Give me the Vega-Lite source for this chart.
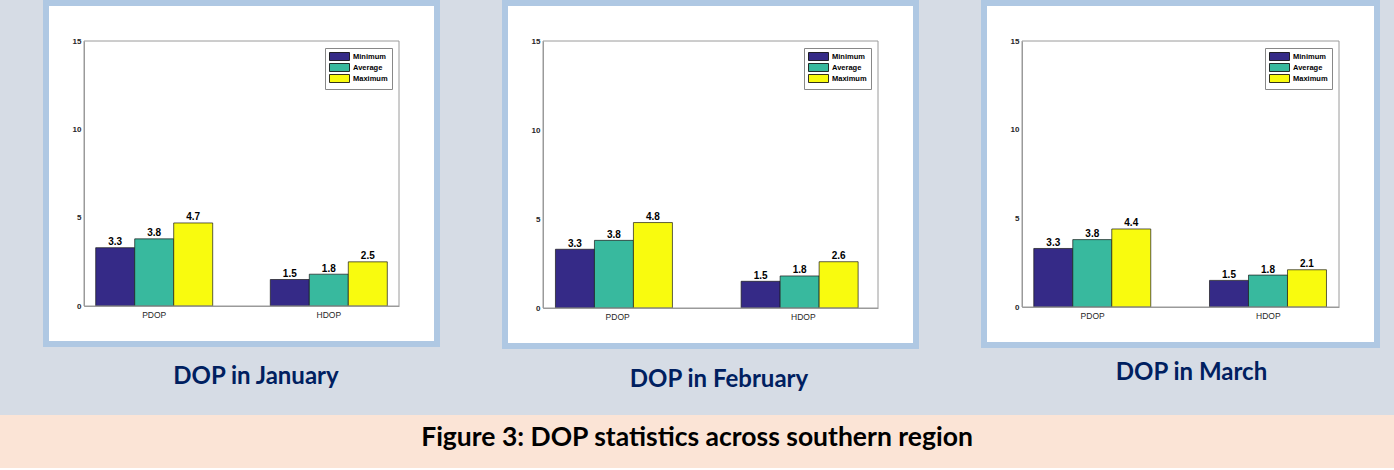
{
  "$schema": "https://vega.github.io/schema/vega-lite/v6.json",
  "background": "#d6dce5",
  "padding": 0,
  "datasets": {
    "dop": [
      {"month": "January", "dop": "PDOP", "stat": "Minimum", "value": 3.3},
      {"month": "January", "dop": "PDOP", "stat": "Average", "value": 3.8},
      {"month": "January", "dop": "PDOP", "stat": "Maximum", "value": 4.7},
      {"month": "January", "dop": "HDOP", "stat": "Minimum", "value": 1.5},
      {"month": "January", "dop": "HDOP", "stat": "Average", "value": 1.8},
      {"month": "January", "dop": "HDOP", "stat": "Maximum", "value": 2.5},
      {"month": "February", "dop": "PDOP", "stat": "Minimum", "value": 3.3},
      {"month": "February", "dop": "PDOP", "stat": "Average", "value": 3.8},
      {"month": "February", "dop": "PDOP", "stat": "Maximum", "value": 4.8},
      {"month": "February", "dop": "HDOP", "stat": "Minimum", "value": 1.5},
      {"month": "February", "dop": "HDOP", "stat": "Average", "value": 1.8},
      {"month": "February", "dop": "HDOP", "stat": "Maximum", "value": 2.6},
      {"month": "March", "dop": "PDOP", "stat": "Minimum", "value": 3.3},
      {"month": "March", "dop": "PDOP", "stat": "Average", "value": 3.8},
      {"month": "March", "dop": "PDOP", "stat": "Maximum", "value": 4.4},
      {"month": "March", "dop": "HDOP", "stat": "Minimum", "value": 1.5},
      {"month": "March", "dop": "HDOP", "stat": "Average", "value": 1.8},
      {"month": "March", "dop": "HDOP", "stat": "Maximum", "value": 2.1}
    ],
    "caption": [{"text": "Figure 3: DOP statistics across southern region"}]
  },
  "vconcat": [
    {
      "hconcat": [
        {
          "width": 43, "height": 10,
          "data": {"name": "caption"},
          "transform": [{"filter": "false"}],
          "view": {"fill": "#d6dce5", "stroke": null},
          "mark": "text",
          "encoding": {"text": {"field": "text", "type": "nominal"}}
        },
        {
          "hconcat": [
            {
              "width": 315, "height": 265,
              "data": {"name": "dop"},
              "title": {"text": "DOP in January", "orient": "bottom", "offset": 37, "dx": 14.5, "baseline": "alphabetic"},
              "transform": [{"filter": {"field": "month", "equal": "January"}}],
              "layer": [
                {"transform": [{"filter": "datum.dop === 'PDOP' && datum.stat === 'Minimum'"}], "mark": {"type": "rect", "fill": "white", "stroke": "#afc8e3", "strokeWidth": 82}, "encoding": {}},
                {"transform": [{"filter": "datum.dop === 'PDOP' && datum.stat === 'Minimum'"}], "mark": {"type": "rect", "fill": "white", "stroke": "white", "strokeWidth": 70}, "encoding": {}},
                {
                  "mark": {"type": "bar", "stroke": "#1a1a1a", "strokeWidth": 0.7},
                  "encoding": {
                    "x": {"field": "dop", "type": "nominal", "sort": ["PDOP", "HDOP"], "scale": {"paddingInner": 0.33, "paddingOuter": 0.067}, "axis": {"title": null, "labelAngle": 0, "zindex": 1}},
                    "xOffset": {"field": "stat", "type": "nominal", "sort": ["Minimum", "Average", "Maximum"], "scale": {"paddingInner": 0, "paddingOuter": 0}},
                    "y": {"field": "value", "type": "quantitative", "scale": {"domain": [0, 15], "nice": false}, "axis": {"values": [0, 5, 10, 15], "title": null, "zindex": 1}},
                    "color": {"field": "stat", "type": "nominal", "sort": ["Minimum", "Average", "Maximum"], "scale": {"domain": ["Minimum", "Average", "Maximum"], "range": ["#352a87", "#38b99e", "#f9fb0e"]}, "legend": {"title": null, "orient": "top-right", "offset": 7, "padding": 4, "fillColor": "white", "strokeColor": "#888888", "symbolType": "M-2.5,-1H2.5V1H-2.5Z", "symbolSize": 64, "symbolOffset": 6, "symbolStrokeColor": "black", "symbolStrokeWidth": 0.8, "symbolOpacity": 1, "labelFont": "Liberation Sans", "labelFontSize": 7.5, "labelFontWeight": "bold", "labelColor": "black", "labelOffset": 9, "rowPadding": -2}}
                  }
                },
                {
                  "mark": {"type": "text", "baseline": "alphabetic", "dy": -2.5, "font": "Liberation Sans", "fontWeight": "bold", "fontSize": 10, "color": "black"},
                  "encoding": {
                    "x": {"field": "dop", "type": "nominal", "sort": ["PDOP", "HDOP"], "scale": {"paddingInner": 0.33, "paddingOuter": 0.067}, "axis": {"title": null, "labelAngle": 0, "zindex": 1}},
                    "xOffset": {"field": "stat", "type": "nominal", "sort": ["Minimum", "Average", "Maximum"], "scale": {"paddingInner": 0, "paddingOuter": 0}},
                    "y": {"field": "value", "type": "quantitative", "scale": {"domain": [0, 15], "nice": false}, "axis": {"values": [0, 5, 10, 15], "title": null, "zindex": 1}},
                    "text": {"field": "value", "type": "quantitative", "format": ".1f"}
                  }
                },
                {"transform": [{"filter": "datum.dop === 'PDOP' && datum.stat === 'Minimum'"}], "mark": {"type": "rect", "fill": "transparent", "stroke": "#9a9a9a", "strokeWidth": 1}, "encoding": {}}
              ]
            },
            {
              "width": 335, "height": 267,
              "data": {"name": "dop"},
              "title": {"text": "DOP in February", "orient": "bottom", "offset": 38, "dx": 8.5, "baseline": "alphabetic"},
              "transform": [{"filter": {"field": "month", "equal": "February"}}],
              "layer": [
                {"transform": [{"filter": "datum.dop === 'PDOP' && datum.stat === 'Minimum'"}], "mark": {"type": "rect", "fill": "white", "stroke": "#afc8e3", "strokeWidth": 82}, "encoding": {}},
                {"transform": [{"filter": "datum.dop === 'PDOP' && datum.stat === 'Minimum'"}], "mark": {"type": "rect", "fill": "white", "stroke": "white", "strokeWidth": 70}, "encoding": {}},
                {
                  "mark": {"type": "bar", "stroke": "#1a1a1a", "strokeWidth": 0.7},
                  "encoding": {
                    "x": {"field": "dop", "type": "nominal", "sort": ["PDOP", "HDOP"], "scale": {"paddingInner": 0.33, "paddingOuter": 0.067}, "axis": {"title": null, "labelAngle": 0, "zindex": 1}},
                    "xOffset": {"field": "stat", "type": "nominal", "sort": ["Minimum", "Average", "Maximum"], "scale": {"paddingInner": 0, "paddingOuter": 0}},
                    "y": {"field": "value", "type": "quantitative", "scale": {"domain": [0, 15], "nice": false}, "axis": {"values": [0, 5, 10, 15], "title": null, "zindex": 1}},
                    "color": {"field": "stat", "type": "nominal", "sort": ["Minimum", "Average", "Maximum"], "scale": {"domain": ["Minimum", "Average", "Maximum"], "range": ["#352a87", "#38b99e", "#f9fb0e"]}, "legend": {"title": null, "orient": "top-right", "offset": 7, "padding": 4, "fillColor": "white", "strokeColor": "#888888", "symbolType": "M-2.5,-1H2.5V1H-2.5Z", "symbolSize": 64, "symbolOffset": 6, "symbolStrokeColor": "black", "symbolStrokeWidth": 0.8, "symbolOpacity": 1, "labelFont": "Liberation Sans", "labelFontSize": 7.5, "labelFontWeight": "bold", "labelColor": "black", "labelOffset": 9, "rowPadding": -2}}
                  }
                },
                {
                  "mark": {"type": "text", "baseline": "alphabetic", "dy": -2.5, "font": "Liberation Sans", "fontWeight": "bold", "fontSize": 10, "color": "black"},
                  "encoding": {
                    "x": {"field": "dop", "type": "nominal", "sort": ["PDOP", "HDOP"], "scale": {"paddingInner": 0.33, "paddingOuter": 0.067}, "axis": {"title": null, "labelAngle": 0, "zindex": 1}},
                    "xOffset": {"field": "stat", "type": "nominal", "sort": ["Minimum", "Average", "Maximum"], "scale": {"paddingInner": 0, "paddingOuter": 0}},
                    "y": {"field": "value", "type": "quantitative", "scale": {"domain": [0, 15], "nice": false}, "axis": {"values": [0, 5, 10, 15], "title": null, "zindex": 1}},
                    "text": {"field": "value", "type": "quantitative", "format": ".1f"}
                  }
                },
                {"transform": [{"filter": "datum.dop === 'PDOP' && datum.stat === 'Minimum'"}], "mark": {"type": "rect", "fill": "transparent", "stroke": "#9a9a9a", "strokeWidth": 1}, "encoding": {}}
              ]
            },
            {
              "width": 317, "height": 266,
              "data": {"name": "dop"},
              "title": {"text": "DOP in March", "orient": "bottom", "offset": 32, "dx": 11, "baseline": "alphabetic"},
              "transform": [{"filter": {"field": "month", "equal": "March"}}],
              "layer": [
                {"transform": [{"filter": "datum.dop === 'PDOP' && datum.stat === 'Minimum'"}], "mark": {"type": "rect", "fill": "white", "stroke": "#afc8e3", "strokeWidth": 82}, "encoding": {}},
                {"transform": [{"filter": "datum.dop === 'PDOP' && datum.stat === 'Minimum'"}], "mark": {"type": "rect", "fill": "white", "stroke": "white", "strokeWidth": 70}, "encoding": {}},
                {
                  "mark": {"type": "bar", "stroke": "#1a1a1a", "strokeWidth": 0.7},
                  "encoding": {
                    "x": {"field": "dop", "type": "nominal", "sort": ["PDOP", "HDOP"], "scale": {"paddingInner": 0.33, "paddingOuter": 0.067}, "axis": {"title": null, "labelAngle": 0, "zindex": 1}},
                    "xOffset": {"field": "stat", "type": "nominal", "sort": ["Minimum", "Average", "Maximum"], "scale": {"paddingInner": 0, "paddingOuter": 0}},
                    "y": {"field": "value", "type": "quantitative", "scale": {"domain": [0, 15], "nice": false}, "axis": {"values": [0, 5, 10, 15], "title": null, "zindex": 1}},
                    "color": {"field": "stat", "type": "nominal", "sort": ["Minimum", "Average", "Maximum"], "scale": {"domain": ["Minimum", "Average", "Maximum"], "range": ["#352a87", "#38b99e", "#f9fb0e"]}, "legend": {"title": null, "orient": "top-right", "offset": 7, "padding": 4, "fillColor": "white", "strokeColor": "#888888", "symbolType": "M-2.5,-1H2.5V1H-2.5Z", "symbolSize": 64, "symbolOffset": 6, "symbolStrokeColor": "black", "symbolStrokeWidth": 0.8, "symbolOpacity": 1, "labelFont": "Liberation Sans", "labelFontSize": 7.5, "labelFontWeight": "bold", "labelColor": "black", "labelOffset": 9, "rowPadding": -2}}
                  }
                },
                {
                  "mark": {"type": "text", "baseline": "alphabetic", "dy": -2.5, "font": "Liberation Sans", "fontWeight": "bold", "fontSize": 10, "color": "black"},
                  "encoding": {
                    "x": {"field": "dop", "type": "nominal", "sort": ["PDOP", "HDOP"], "scale": {"paddingInner": 0.33, "paddingOuter": 0.067}, "axis": {"title": null, "labelAngle": 0, "zindex": 1}},
                    "xOffset": {"field": "stat", "type": "nominal", "sort": ["Minimum", "Average", "Maximum"], "scale": {"paddingInner": 0, "paddingOuter": 0}},
                    "y": {"field": "value", "type": "quantitative", "scale": {"domain": [0, 15], "nice": false}, "axis": {"values": [0, 5, 10, 15], "title": null, "zindex": 1}},
                    "text": {"field": "value", "type": "quantitative", "format": ".1f"}
                  }
                },
                {"transform": [{"filter": "datum.dop === 'PDOP' && datum.stat === 'Minimum'"}], "mark": {"type": "rect", "fill": "transparent", "stroke": "#9a9a9a", "strokeWidth": 1}, "encoding": {}}
              ]
            }
          ],
          "spacing": 144,
          "bounds": "flush",
          "resolve": {"scale": {"color": "independent"}, "legend": {"color": "independent"}}
        }
      ],
      "spacing": 0,
      "bounds": "full"
    },
    {
      "width": 1394, "height": 53,
      "data": {"name": "caption"},
      "view": {"fill": "#fbe4d6", "stroke": null},
      "mark": {"type": "text", "font": "Lato", "fontWeight": "bold", "fontSize": 26.5, "color": "black", "baseline": "alphabetic", "dy": 4},
      "encoding": {"text": {"field": "text", "type": "nominal"}}
    }
  ],
  "spacing": 23,
  "bounds": "full",
  "config": {
    "view": {"stroke": null},
    "axis": {"grid": false, "ticks": false, "domainColor": "#9a9a9a", "domainWidth": 1, "labelFont": "Liberation Sans", "labelColor": "#262626", "labelFontSize": 8, "labelPadding": 3},
    "axisX": {"labelFontSize": 8.5, "labelPadding": 4},
    "axisY": {"labelFontWeight": "bold"},
    "title": {"font": "Lato", "fontWeight": "bold", "fontSize": 24, "color": "#002060"}
  }
}
